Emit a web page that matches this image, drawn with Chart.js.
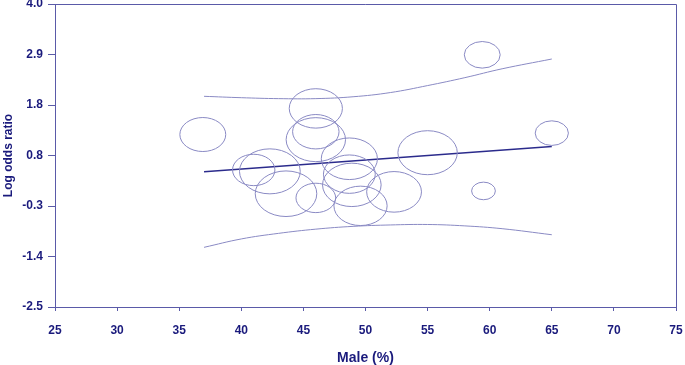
<!DOCTYPE html>
<html>
<head>
<meta charset="utf-8">
<script src="https://cdn.jsdelivr.net/npm/chart.js@4.4.0/dist/chart.umd.min.js"></script>
<style>
  html, body { margin: 0; padding: 0; background: #ffffff; }
  #wrap { width: 685px; height: 365px; }
</style>
</head>
<body>
<div id="wrap"><canvas id="myChart" width="685" height="365"></canvas></div>
<script>
// dados
const maleStudy = [36.9, 46.0, 46.0, 46.0, 41.0, 42.3, 43.6, 46.0, 55.0, 48.7, 48.7, 48.9, 49.6, 52.3, 59.5, 65.0, 59.4];
const logOddsStudy = [1.20, 1.76, 1.26, 1.09, 0.44, 0.41, -0.07, -0.16, 0.81, 0.68, 0.35, 0.12, -0.33, -0.03, -0.01, 1.23, 2.91];
const weightStudy = [17, 19.7, 17.2, 22, 15.7, 22.5, 22.8, 14.7, 22, 20.8, 19.2, 21.7, 19.7, 20.3, 8.8, 12.3, 13.3];

const fitX = [37, 65];
const fitY = [0.40, 0.945];

const ciX = [37, 40, 43, 46, 49, 52, 55, 58, 61, 65];
const ciUpper = [2.02, 1.99, 1.97, 1.97, 2.01, 2.10, 2.25, 2.42, 2.61, 2.82];
const ciLower = [-1.22, -1.04, -0.92, -0.83, -0.77, -0.74, -0.73, -0.76, -0.82, -0.95];

const xTicks = [25, 30, 35, 40, 45, 50, 55, 60, 65, 70, 75];
const yTickLabels = ['-2.5', '-1.4', '-0.3', '0.8', '1.8', '2.9', '4.0'];
const yMin = -2.5, yMax = 4.0;

const corTexto = '#1a1a7c';
const corEixo = '#5a5aa8';
const corBolha = '#8a8ac4';
const corReta = '#2b2b8c';
const esticar = 1.35; // bolhas ficam ovais (figura esticada na horizontal)

const ctx = document.getElementById('myChart').getContext('2d');

const bolhas = maleStudy.map((x, i) => ({ x: x, y: logOddsStudy[i], r: weightStudy[i] }));
const reta = fitX.map((x, i) => ({ x: x, y: fitY[i] }));
const superior = ciX.map((x, i) => ({ x: x, y: ciUpper[i] }));
const inferior = ciX.map((x, i) => ({ x: x, y: ciLower[i] }));

// desenha as bolhas como elipses
const elipses = {
    id: 'elipses',
    beforeDatasetDraw(chart, args) {
        if (chart.data.datasets[args.index].type !== 'bubble') return;
        const c = chart.ctx;
        c.save();
        c.strokeStyle = corBolha;
        c.lineWidth = 1;
        args.meta.data.forEach((el) => {
            const r = el.options.radius;
            c.beginPath();
            c.ellipse(el.x, el.y, r * esticar, r, 0, 0, Math.PI * 2);
            c.stroke();
        });
        c.restore();
        return false;
    }
};

// moldura de cima e da direita
const moldura = {
    id: 'moldura',
    afterDraw(chart) {
        const a = chart.chartArea;
        const c = chart.ctx;
        c.save();
        c.strokeStyle = corEixo;
        c.lineWidth = 1;
        c.beginPath();
        c.moveTo(a.left, a.top + 0.5);
        c.lineTo(a.right + 0.5, a.top + 0.5);
        c.lineTo(a.right + 0.5, a.bottom);
        c.stroke();
        c.restore();
    }
};

const grafico = new Chart(ctx, {
    data: {
        datasets: [
            {
                type: 'line',
                data: superior,
                borderColor: corBolha,
                borderWidth: 1,
                pointRadius: 0,
                tension: 0.4
            },
            {
                type: 'line',
                data: inferior,
                borderColor: corBolha,
                borderWidth: 1,
                pointRadius: 0,
                tension: 0.4
            },
            {
                type: 'bubble',
                data: bolhas,
                backgroundColor: 'rgba(0,0,0,0)',
                borderColor: corBolha,
                borderWidth: 1
            },
            {
                type: 'line',
                data: reta,
                borderColor: corReta,
                borderWidth: 1.5,
                pointRadius: 0
            }
        ]
    },
    options: {
        responsive: false,
        animation: false,
        events: [],
        layout: { autoPadding: false, padding: { top: 4, right: 9, left: 0, bottom: 0 } },
        plugins: {
            legend: { display: false },
            tooltip: { enabled: false }
        },
        scales: {
            x: {
                type: 'linear',
                position: 'bottom',
                min: 25,
                max: 75,
                afterBuildTicks: (scale) => { scale.ticks = xTicks.map(v => ({ value: v })); },
                afterFit: (scale) => { scale.height = 58; scale.paddingRight = 0; scale.paddingLeft = 0; },
                grid: { display: true, drawOnChartArea: false, drawTicks: true, tickLength: 4, color: corEixo },
                border: { display: true, color: corEixo, width: 1 },
                ticks: {
                    color: corTexto,
                    padding: 12,
                    maxRotation: 0,
                    font: { family: 'Liberation Sans, Arial, sans-serif', size: 12, weight: 'bold' }
                },
                title: {
                    display: true,
                    text: 'Male (%)',
                    color: corTexto,
                    padding: 0,
                    font: { family: 'Liberation Sans, Arial, sans-serif', size: 14, weight: 'bold', lineHeight: 1 }
                }
            },
            y: {
                type: 'linear',
                min: yMin,
                max: yMax,
                afterBuildTicks: (scale) => {
                    const n = yTickLabels.length;
                    scale.ticks = yTickLabels.map((l, i) => ({ value: yMin + i * (yMax - yMin) / (n - 1) }));
                },
                afterFit: (scale) => { scale.width = 55; scale.paddingTop = 0; scale.paddingBottom = 0; },
                grid: { display: true, drawOnChartArea: false, drawTicks: true, tickLength: 7, color: corEixo },
                border: { display: true, color: corEixo, width: 1 },
                ticks: {
                    color: corTexto,
                    padding: 5,
                    font: { family: 'Liberation Sans, Arial, sans-serif', size: 12, weight: 'bold' },
                    callback: (v, i) => yTickLabels[i]
                },
                title: {
                    display: true,
                    text: 'Log odds ratio',
                    color: corTexto,
                    padding: { top: 1, bottom: 0 },
                    font: { family: 'Liberation Sans, Arial, sans-serif', size: 12, weight: 'bold' }
                }
            }
        }
    },
    plugins: [elipses, moldura]
});
</script>
</body>
</html>
